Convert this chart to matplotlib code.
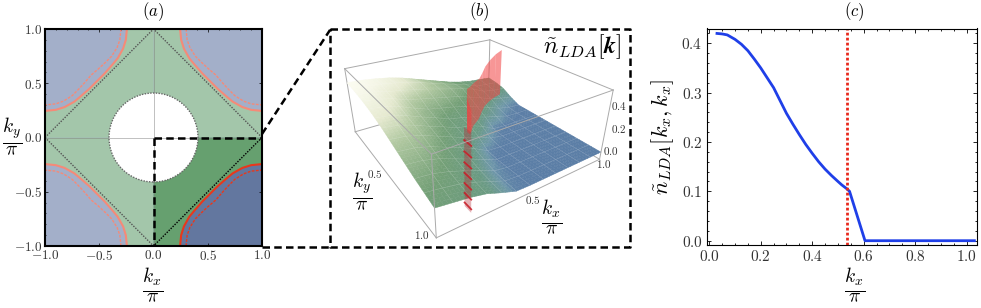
import matplotlib
matplotlib.use('Agg')
import matplotlib.pyplot as plt
from matplotlib.patches import Circle
from matplotlib.ticker import MultipleLocator
from matplotlib.colors import LinearSegmentedColormap
from mpl_toolkits.mplot3d.art3d import Poly3DCollection
import numpy as np

plt.rcParams['mathtext.fontset'] = 'cm'
plt.rcParams['font.family'] = ['cmr10', 'DejaVu Serif']
plt.rcParams['axes.formatter.use_mathtext'] = True
plt.rcParams['axes.unicode_minus'] = False

W, H = 981, 308

# Fermi contours, first quadrant
solid_kx = [.245, .255, .28, .33, .38, .45, .52, .59, .67, .73, .82, .90, 1.0]
solid_ky = [1.0, .90, .82, .73, .67, .59, .52, .45, .38, .33, .28, .255, .245]
dash_kx = [.30, .31, .335, .385, .44, .505, .575, .635, .695, .75, .83, .90, 1.0]
dash_ky = [1.0, .90, .83, .75, .695, .635, .575, .505, .44, .385, .335, .31, .30]
hole_radius = 0.41

# panel c
diag_k = [.03, .05, .07, .10, .125, .15, .175, .20, .225, .25, .275, .30, .325, .35, .375, .40,
          .425, .45, .475, .50, .515, .535, .545, .605, 1.03]
diag_n = [.42, .419, .417, .408, .398, .385, .368, .35, .33, .31, .284, .258, .236, .215, .195, .177,
          .16, .145, .132, .12, .113, .105, .10, 0, 0]
fermi_k = 0.535

# panel b surface, rows ky, columns kx, both 0 to 1 in twelfths
grid_k = [i / 12 for i in range(13)]
surface = [
    [.42, .415, .40, .38, .35, .31, .27, .23, .19, .16, .14, .13, .12],
    [.418, .41, .395, .375, .35, .32, .28, .245, .21, .18, .13, .12, .11],
    [.41, .40, .37, .35, .325, .30, .27, .24, .21, .175, .12, .10, .09],
    [.40, .385, .355, .31, .285, .26, .235, .21, .17, .13, .085, .06, .04],
    [.385, .37, .335, .285, .24, .215, .19, .16, .12, .08, .035, .01, 0],
    [.365, .35, .31, .26, .215, .165, .14, .11, .07, .04, .005, 0, 0],
    [.34, .325, .285, .235, .19, .14, .12, .075, .01, 0, 0, 0, 0],
    [.31, .295, .26, .21, .16, .11, .075, .02, 0, 0, 0, 0, 0],
    [.28, .265, .23, .18, .13, .075, .01, 0, 0, 0, 0, 0, 0],
    [.25, .235, .20, .15, .10, .045, 0, 0, 0, 0, 0, 0, 0],
    [.22, .205, .17, .125, .075, .02, 0, 0, 0, 0, 0, 0, 0],
    [.195, .175, .15, .11, .06, .01, 0, 0, 0, 0, 0, 0, 0],
    [.17, .15, .13, .10, .05, .005, 0, 0, 0, 0, 0, 0, 0],
]
# red sheet, from the front edge to the back
sheet_kx = [.17, .23, .31, .40, .48, .56, .63, .70, .78, .86, .93]
sheet_ky = [1.0, .88, .76, .65, .56, .50, .43, .36, .30, .25, .22]
sheet_low = [.60, .50, .35, .20, .17, .16, .15, .13, .11, .09, .08]
sheet_top = [.74, .72, .68, .60, .55, .53, .52, .52, .53, .54, .55]
stripe_z = [.03, .11, .19, .27, .35, .43, .51]

fig = plt.figure(figsize=(W / 100, H / 100), dpi=100)


def px_axes(x0, y0, x1, y1, **kw):
    return fig.add_axes([x0 / W, 1 - y1 / H, (x1 - x0) / W, (y1 - y0) / H], **kw)


# ---- panel a
ax = px_axes(45, 29, 262, 246)
ax.set_xlim(-1, 1)
ax.set_ylim(-1, 1)
for sx, sy in [(1, 1), (-1, 1), (-1, -1), (1, -1)]:
    dark = sx > 0 and sy < 0
    blue = '#63779f' if dark else '#a3afc9'
    green = '#66a06f' if dark else '#a3c6aa'
    red = '#e8381c' if dark else '#f58a78'
    ax.fill([0, sx, sx, 0], [0, 0, sy, sy], color=blue, lw=0, zorder=1)
    ax.fill([0] + [sx * k for k in solid_kx] + [sx, 0], [sy] + [sy * k for k in solid_ky] + [0, 0],
            color=green, lw=0, zorder=2)
    ax.plot([sx * k for k in solid_kx], [sy * k for k in solid_ky], color=red, lw=1.5, zorder=3)
    ax.plot([sx * k for k in dash_kx], [sy * k for k in dash_ky], color=red, lw=1, ls=(0, (2, 1)), zorder=3)
    ax.plot([sx, 0], [0, sy], color='black' if dark else '#555555', lw=1, ls=(0, (1, 1)), zorder=3)
ax.add_patch(Circle((0, 0), hole_radius, facecolor='white', edgecolor='#666666', lw=1, ls=(0, (1, 1)), zorder=4))
ax.axhline(0, color='gray', lw=.7, alpha=.5, zorder=5)
ax.axvline(0, color='gray', lw=.7, alpha=.5, zorder=5)
ax.plot([0, 1], [0, 0], color='black', lw=1.8, ls=(0, (3, 1.7)), zorder=6)
ax.plot([0, 0], [0, -1], color='black', lw=1.8, ls=(0, (3, 1.7)), zorder=6)
ax.set_xticks([-1, -.5, 0, .5, 1])
ax.set_yticks([-1, -.5, 0, .5, 1])
ax.set_xticklabels(['$-1.0$', '$-0.5$', '$0.0$', '$0.5$', '$1.0$'])
ax.set_yticklabels(['$-1.0$', '$-0.5$', '$0.0$', '$0.5$', '$1.0$'])
ax.xaxis.set_minor_locator(MultipleLocator(.1))
ax.yaxis.set_minor_locator(MultipleLocator(.1))
ax.tick_params(which='both', direction='in', top=True, right=True, labelsize=9.5, labelcolor='#333333',
               pad=2, length=2, width=.5)
ax.tick_params(which='minor', length=1)
for s in ax.spines.values():
    s.set_linewidth(1.5)
    s.set_zorder(10)

# ---- panel c
ax = px_axes(706.7, 28.5, 976.7, 245)
ax.plot(diag_k, diag_n, color='#1f3fe8', lw=2)
ax.axvline(fermi_k, color='#e8281c', lw=2, ls=(0, (1, .8)))
ax.set_xlim(-.01, 1.039)
ax.set_ylim(-.0087, .43)
ax.set_xticks([0, .2, .4, .6, .8, 1])
ax.set_yticks([0, .1, .2, .3, .4])
ax.set_xticklabels(['$0.0$', '$0.2$', '$0.4$', '$0.6$', '$0.8$', '$1.0$'])
ax.set_yticklabels(['$0.0$', '$0.1$', '$0.2$', '$0.3$', '$0.4$'])
ax.xaxis.set_minor_locator(MultipleLocator(.05))
ax.yaxis.set_minor_locator(MultipleLocator(.02))
ax.tick_params(which='both', direction='in', top=True, right=True, labelsize=11, labelcolor='#333333',
               pad=3, length=3, width=.6)
ax.tick_params(which='minor', length=1.5)
ax.set_ylabel(r'$\tilde{n}_{LDA}[k_x,k_x]$', fontsize=16, labelpad=4)

# ---- panel b
ax3 = px_axes(264.6, -81.4, 664.6, 318.6, projection='3d')
ax3.set_axis_off()
ax3.patch.set_alpha(0)
ax3.computed_zorder = False
ax3.set_xlim(0, 1)
ax3.set_ylim(1, 0)
ax3.set_zlim(-.07, .55)
ax3.view_init(elev=27.746, azim=-123.586, roll=0)
ax3.set_proj_type('persp', focal_length=.171)
ax3.set_box_aspect((1, 1.012, .407), zoom=.657)

corners = np.array([[0, 0, -.07], [0, 1, -.07], [1, 1, -.07], [1, 0, -.07],
                    [0, 0, .55], [0, 1, .55], [1, 1, .55], [1, 0, .55]])
z3 = np.array(surface)
cmap = LinearSegmentedColormap.from_list('n', [(0, '#5b7ea6'), (.06, '#6f98aa'), (.2, '#6a9a84'),
                                               (.45, '#74a077'), (.7, '#b0c8a0'), (.85, '#e6ead0'), (1, '#fbfbf0')])
# each facet is shaded smoothly from its four corners
sub = 4
polys, cols = [], []
for j in range(12):
    for i in range(12):
        c00, c10, c01, c11 = z3[j, i], z3[j, i + 1], z3[j + 1, i], z3[j + 1, i + 1]
        for m in range(sub):
            for n in range(sub):
                q = []
                for a, b in [(n, m), (n + 1, m), (n + 1, m + 1), (n, m + 1)]:
                    u, v = a / sub, b / sub
                    q.append((grid_k[i] + u / 12, grid_k[j] + v / 12,
                              (1 - u) * (1 - v) * c00 + u * (1 - v) * c10 + (1 - u) * v * c01 + u * v * c11))
                polys.append(q)
                cols.append(cmap(np.mean([p[2] for p in q]) / .42))
ax3.add_collection3d(Poly3DCollection(polys, facecolors=cols, edgecolors=cols, linewidths=.3, zorder=2))
for k in grid_k[1:-1]:
    i = grid_k.index(k)
    ax3.plot(grid_k, [k] * 13, z3[i], color='white', lw=.4, alpha=.2, zorder=2.5)
    ax3.plot([k] * 13, grid_k, z3[:, i], color='white', lw=.4, alpha=.2, zorder=2.5)

sheet = []
for i in range(len(sheet_kx) - 1):
    xa, ya, xb, yb = sheet_kx[i], sheet_ky[i], sheet_kx[i + 1], sheet_ky[i + 1]
    sheet.append([(xa, ya, sheet_low[i]), (xb, yb, sheet_low[i + 1]), (xb, yb, sheet_top[i + 1]), (xa, ya, sheet_top[i])])
ax3.add_collection3d(Poly3DCollection(sheet, facecolors=(.95, .25, .25, .55), edgecolors='none', zorder=3))
band = [[(.17, 1, 0), (.17, .95, 0), (.17, .95, .6), (.17, 1, .6)]]
ax3.add_collection3d(Poly3DCollection(band, facecolors=(.7, .15, .2, .35), edgecolors='none', zorder=3))
for z in stripe_z:
    ax3.plot([.17, .17], [.95, 1.0], [z, z], color='#c8202a', lw=1.3, alpha=.9, zorder=3)

edges_back = [(0, 3), (3, 2), (3, 7), (0, 4), (0, 1)]
edges_front = [(1, 2), (1, 5), (2, 6), (4, 5), (5, 6), (6, 7), (7, 4)]
for a, b in edges_back:
    ax3.plot(*corners[[a, b]].T, color='#aaaaaa', lw=.7, zorder=1)
for a, b in edges_front:
    ax3.plot(*corners[[a, b]].T, color='#aaaaaa', lw=.7, zorder=4)

# ---- overlay for connectors and labels
ov = fig.add_axes([0, 0, 1, 1], facecolor='none')
ov.set_xlim(0, W)
ov.set_ylim(H, 0)
ov.set_axis_off()
dash = dict(color='black', lw=1.8, ls=(0, (3, 1.7)))
ov.plot([262, 330], [134, 30], **dash)
ov.plot([262, 330], [246.5, 246.5], **dash)
ov.plot([330, 630, 630, 330, 330], [29, 29, 246.5, 246.5, 29], **dash)
for x, s in [(153, '$(a)$'), (479, '$(b)$'), (854, '$(c)$')]:
    ov.text(x, 12, s, fontsize=12, ha='center', va='center')
ov.text(582, 47, r'$\tilde{n}_{LDA}[\boldsymbol{k}]$', fontsize=17, ha='center', va='center')
frac_x = r'$\frac{k_x}{\pi}$'
frac_y = r'$\frac{k_y}{\pi}$'
ov.text(153, 285, frac_x, fontsize=20, ha='center', va='center')
ov.text(12, 137, frac_y, fontsize=20, ha='center', va='center')
ov.text(855, 285, frac_x, fontsize=20, ha='center', va='center')
ov.text(362, 192, frac_y, fontsize=20, ha='center', va='center')
ov.text(552, 217, frac_x, fontsize=20, ha='center', va='center')
tick_text = [(619, 106, '0.4'), (619, 129, '0.2'), (611, 151, '0.0'), (604, 164, '1.0'),
             (533, 200, '0.5'), (422, 235, '1.0'), (375, 174, '0.5')]
for x, y, s in tick_text:
    ov.text(x, y, '$%s$' % s, fontsize=8, ha='center', va='center', color='#333333')

fig.savefig('out.png', dpi=100)
